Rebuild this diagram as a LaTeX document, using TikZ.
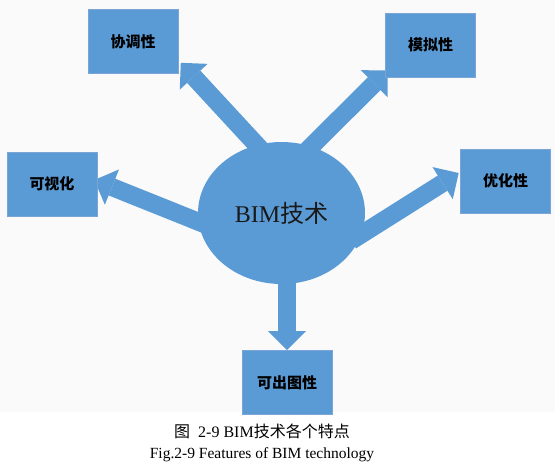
\documentclass[tikz,border=0pt]{standalone}
\usepackage{fontspec}
\setmainfont{Liberation Serif}
\newfontfamily\cjk{Noto Sans CJK SC}
\usetikzlibrary{arrows.meta,shapes.geometric}
\definecolor{bimblue}{HTML}{5B9BD5}
\definecolor{boxedge}{HTML}{7AA5D6}
\definecolor{canvas}{HTML}{FAFAFA}
\pgfdeclarelayer{background}
\pgfsetlayers{background,main}

\begin{document}
\begin{tikzpicture}[
  x=1pt, y=-1pt,
  feature/.style={rectangle, fill=bimblue, draw=boxedge, line width=0.6pt, minimum width=90pt, minimum height=64pt, inner sep=0pt, font=\cjk\bfseries\fontsize{15}{17}\selectfont},
  core/.style={ellipse, fill=bimblue, minimum width=167pt, minimum height=142pt, inner sep=0pt, font=\fontsize{24}{28}\selectfont, text=black!90},
  blk/.style={line width=18pt, draw=bimblue, -{Triangle[length=19pt 0 0, width=38pt 0, line width=0pt 0 0]}, shorten <=-12pt},
  capt/.style={inner sep=0pt}
]
\useasboundingbox (0,0) rectangle (555,467);

\node[core] (bim) at (281.5,213) {BIM{\cjk 技术}};

\node[feature] (xt)  at (133,41.5)  {协调性};
\node[feature] (mn)  at (430.5,45)  {模拟性};
\node[feature] (ksh) at (52,184)    {可视化};
\node[feature] (yh)  at (505.5,181) {优化性};
\node[feature] (kct) at (287,382.5) {可出图性};

% caption
\node[capt, font=\fontsize{16}{18}\selectfont] (cap1) at (262,431) {{\cjk 图}\ \ 2-9 BIM{\cjk 技术各个特点}};
\node[capt, font=\fontsize{15.5}{17}\selectfont] (cap2) at (262,455) {Fig.2-9 Features of BIM technology};

\begin{pgfonlayer}{background}
\fill[canvas] (0,0) rectangle (555,412);
% block arrows from the core to each feature
\draw[blk] (bim.110) -- ([xshift=2.5pt,yshift=11pt]xt.south east);
\draw[blk] (bim.66)  -- ([xshift=2.5pt,yshift=7pt]mn.south west);
\draw[blk] (bim.186) -- ([xshift=-3pt,yshift=4pt]ksh.east);
\draw[blk] (bim.345) -- ([xshift=-1.5pt,yshift=8pt]yh.west);
\draw[blk] (bim.south -| kct.north) -- (kct.north);
\end{pgfonlayer}

\end{tikzpicture}
\end{document}
